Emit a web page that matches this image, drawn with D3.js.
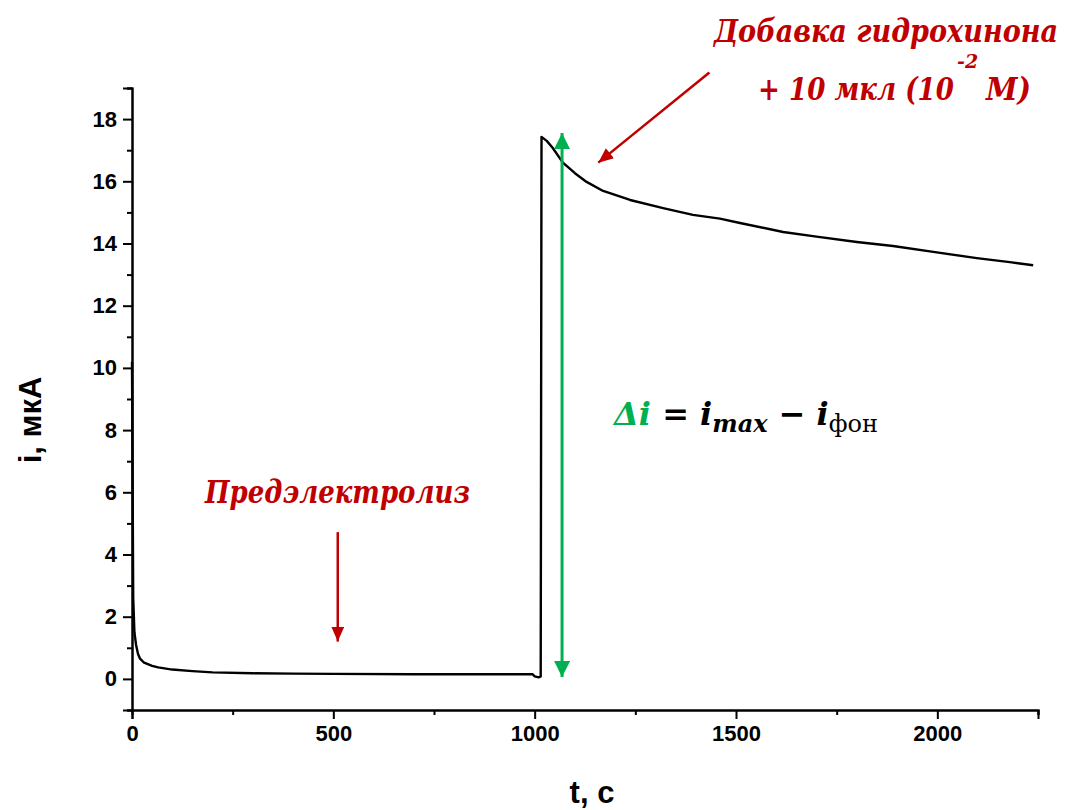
<!DOCTYPE html>
<html>
<head>
<meta charset="utf-8">
<script src="https://cdn.jsdelivr.net/npm/d3@7"></script>
<style>
  html, body { margin: 0; padding: 0; background: #fff; }
  svg { display: block; }
  .tick text { font-family: "Liberation Sans", Arial, sans-serif; font-weight: bold; font-size: 22px; fill: #000; }
  .note { font-family: "DejaVu Serif", serif; font-style: italic; font-weight: bold; fill: #c00000; }
  .title { font-family: "Liberation Sans", Arial, sans-serif; font-weight: bold; font-size: 31px; fill: #000; }
  .formula { font-family: "DejaVu Serif", serif; font-size: 32px; fill: #000; }
</style>
</head>
<body>
<svg id="chart" width="1073" height="810"></svg>
<script>
// Chronoamperogram: current vs. time, pre-electrolysis then hydroquinone addition
const timeS = [0, 3, 6, 10, 15, 20, 30, 50, 65, 100, 150, 200, 300, 400, 500, 700, 900, 995,
  1000, 1010, 1015, 1017, 1030, 1045, 1070, 1100, 1129, 1170, 1237, 1319, 1393, 1460, 1510,
  1617, 1700, 1800, 1890, 1990, 2098, 2180, 2238];
const currentUA = [10.2, 2.6, 1.5, 1.1, 0.8, 0.65, 0.52, 0.42, 0.37, 0.3, 0.25, 0.21, 0.18, 0.17, 0.16, 0.15, 0.15, 0.15,
  0.08, 0.05, 0.08, 17.43, 17.3, 17.07, 16.6, 16.26, 15.98, 15.69, 15.4, 15.14, 14.92, 14.8, 14.66,
  14.37, 14.22, 14.05, 13.92, 13.73, 13.53, 13.4, 13.3];

const xTicks = [0, 500, 1000, 1500, 2000];
const xMinorTicks = [250, 750, 1250, 1750, 2250];
const yTicks = [0, 2, 4, 6, 8, 10, 12, 14, 16, 18];
const yMinorTicks = [-1, 1, 3, 5, 7, 9, 11, 13, 15, 17, 19];

const svg = d3.select("#chart");
const x = d3.scaleLinear().domain([0, 2250]).range([132, 1038]);
const y = d3.scaleLinear().domain([-1, 19]).range([710, 88]);

const red = "#c00000";
const green = "#00b050";

// Arrowhead markers
const defs = svg.append("defs");
function marker(id, color, w, h) {
  defs.append("marker")
    .attr("id", id).attr("viewBox", `0 0 ${h} ${w}`)
    .attr("refX", h).attr("refY", w / 2)
    .attr("markerWidth", h).attr("markerHeight", w)
    .attr("markerUnits", "userSpaceOnUse")
    .attr("orient", "auto-start-reverse")
    .append("path").attr("d", `M0,0 L${h},${w / 2} L0,${w} Z`).attr("fill", color);
}
marker("headGreen", green, 16, 16);
marker("headRed", red, 13, 15);

// Axes: major ticks with labels, minor ticks without
svg.append("g").attr("transform", `translate(0,${y(-1)})`)
  .call(d3.axisBottom(x).tickValues(xTicks).tickSize(9).tickPadding(6).tickFormat(d3.format("d")));
svg.append("g").attr("transform", `translate(0,${y(-1)})`)
  .call(d3.axisBottom(x).tickValues(xMinorTicks).tickSize(5).tickFormat(""));
svg.append("g").attr("transform", `translate(${x(0)},0)`)
  .call(d3.axisLeft(y).tickValues(yTicks).tickSize(9).tickPadding(6).tickFormat(d3.format("d")));
svg.append("g").attr("transform", `translate(${x(0)},0)`)
  .call(d3.axisLeft(y).tickValues(yMinorTicks).tickSize(5).tickFormat(""));
svg.selectAll(".domain").attr("stroke", "#000").attr("stroke-width", 2);
svg.selectAll(".tick line").attr("stroke", "#000").attr("stroke-width", 2);

// Current trace
const pts = timeS.map((t, k) => [t, currentUA[k]]);
svg.append("path").datum(pts)
  .attr("fill", "none").attr("stroke", "#000").attr("stroke-width", 2.4)
  .attr("stroke-linejoin", "round")
  .attr("d", d3.line().x(d => x(d[0])).y(d => y(d[1])));

// Axis titles
svg.append("text").attr("class", "title").attr("x", 592).attr("y", 803).attr("text-anchor", "middle")
  .text("t, с");
svg.append("text").attr("class", "title").attr("transform", "translate(41,420) rotate(-90)").attr("text-anchor", "middle")
  .text("i, мкА");

// Green double arrow: current step
svg.append("line")
  .attr("x1", x(1068)).attr("x2", x(1068)).attr("y1", y(0.06)).attr("y2", y(17.55))
  .attr("stroke", green).attr("stroke-width", 3)
  .attr("marker-start", "url(#headGreen)").attr("marker-end", "url(#headGreen)");

// Red arrows
svg.append("line")
  .attr("x1", x(511)).attr("x2", x(511)).attr("y1", y(4.72)).attr("y2", y(1.2))
  .attr("stroke", red).attr("stroke-width", 2.5).attr("marker-end", "url(#headRed)");
svg.append("line")
  .attr("x1", x(1434)).attr("x2", x(1158)).attr("y1", y(19.5)).attr("y2", y(16.6))
  .attr("stroke", red).attr("stroke-width", 2.5).attr("marker-end", "url(#headRed)");

// Red labels
svg.append("text").attr("class", "note").attr("x", 205).attr("y", 503)
  .attr("font-size", 31).attr("textLength", 265).attr("lengthAdjust", "spacingAndGlyphs")
  .text("Предэлектролиз");
svg.append("text").attr("class", "note").attr("x", 714).attr("y", 42)
  .attr("font-size", 31).attr("textLength", 344).attr("lengthAdjust", "spacingAndGlyphs")
  .text("Добавка гидрохинона");
svg.append("text").attr("class", "note").attr("x", 758).attr("y", 100)
  .attr("font-size", 31).attr("textLength", 196).attr("lengthAdjust", "spacingAndGlyphs")
  .text("+ 10 мкл (10");
svg.append("text").attr("class", "note").attr("x", 957).attr("y", 68)
  .attr("font-size", 19).text("-2");
svg.append("text").attr("class", "note").attr("x", 986).attr("y", 100)
  .attr("font-size", 31).attr("textLength", 45).attr("lengthAdjust", "spacingAndGlyphs")
  .text("М)");

// Formula
const f = svg.append("text").attr("class", "formula").attr("x", 614).attr("y", 425);
f.append("tspan").attr("font-weight", "bold").attr("font-style", "italic").attr("fill", green).text("Δi");
f.append("tspan").attr("font-weight", "bold").text(" = ");
f.append("tspan").attr("font-weight", "bold").attr("font-style", "italic").text("i");
f.append("tspan").attr("font-weight", "bold").attr("font-style", "italic").attr("font-size", 24).attr("dy", 7).text("max");
f.append("tspan").attr("font-weight", "bold").attr("dy", -7).text(" − ");
f.append("tspan").attr("font-weight", "bold").attr("font-style", "italic").text("i");
f.append("tspan").attr("font-size", 24).attr("dy", 7).text("фон");
</script>
</body>
</html>
